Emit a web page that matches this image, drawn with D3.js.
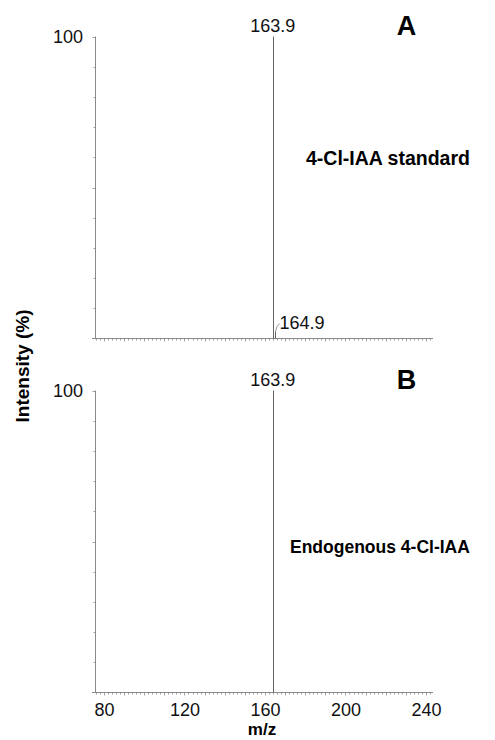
<!DOCTYPE html>
<html><head><meta charset="utf-8">
<script src="https://cdn.jsdelivr.net/npm/d3@7"></script>
<style>body{margin:0;background:#fff}svg{display:block}</style>
</head><body>
<script>
// ---- data ----
const panels = ["A", "B"];
const panelTitles = ["4-Cl-IAA standard", "Endogenous 4-Cl-IAA"];
const peaksA_mz = [163.9, 164.9];
const peaksA_int = [100, 2.3];
const peaksA_label = ["163.9", "164.9"];
const peaksB_mz = [163.9];
const peaksB_int = [100];
const peaksB_label = ["163.9"];
const xTickValues = [80, 120, 160, 200, 240];
const yTickLabels = ["100"];
const xLabel = "m/z";
const yLabel = "Intensity (%)";

const W = 495, H = 740;
const svg = d3.select("body").append("svg").attr("width", W).attr("height", H);
const font = "Liberation Sans, Arial, sans-serif";

const x = d3.scaleLinear().domain([75.8, 243.5]).range([95.5, 433]);
const panelGeom = [{top: 36.5, bottom: 338.5}, {top: 390.5, bottom: 692.5}];
const peakSets = [
  {mz: peaksA_mz, it: peaksA_int, lab: peaksA_label},
  {mz: peaksB_mz, it: peaksB_int, lab: peaksB_label}
];
const axisCol = "#8a8a8a";

panels.forEach((p, i) => {
  const g = panelGeom[i];
  const y = d3.scaleLinear().domain([0, 100]).range([g.bottom, g.top]);
  const G = svg.append("g");

  // x axis line
  G.append("line").attr("x1", x.range()[0] - 3.5).attr("x2", x.range()[1])
    .attr("y1", g.bottom).attr("y2", g.bottom).attr("stroke", axisCol).attr("stroke-width", 1);
  // x minor ticks
  const minor = d3.range(76, 243, 2);
  G.selectAll(".mt").data(minor).join("line")
    .attr("x1", d => Math.round(x(d)) + 0.5).attr("x2", d => Math.round(x(d)) + 0.5)
    .attr("y1", g.bottom).attr("y2", d => g.bottom + (d % 10 === 0 ? 3 : 2))
    .attr("stroke", axisCol).attr("stroke-width", 0.8);

  // y axis line
  G.append("line").attr("x1", x.range()[0]).attr("x2", x.range()[0])
    .attr("y1", g.top).attr("y2", g.bottom).attr("stroke", axisCol).attr("stroke-width", 1);
  // y ticks every 10
  G.selectAll(".yt").data(d3.range(10, 101, 10)).join("line")
    .attr("x1", x.range()[0]).attr("x2", d => x.range()[0] - (d === 50 || d === 100 ? 3 : 2))
    .attr("y1", d => Math.round(y(d)) + 0.5).attr("y2", d => Math.round(y(d)) + 0.5)
    .attr("stroke", axisCol).attr("stroke-width", 0.8);
  // y label 100
  G.append("text").attr("x", 83).attr("y", y(100) + 6.5).attr("text-anchor", "end")
    .attr("font-family", font).attr("font-size", 18).attr("fill", "#111").text(yTickLabels[0]);

  // peaks
  const ps = peakSets[i];
  ps.mz.forEach((m, k) => {
    const px = Math.round(x(m)) + 0.5;
    G.append("line").attr("x1", px).attr("x2", px).attr("y1", g.bottom).attr("y2", y(ps.it[k]))
      .attr("stroke", "#666").attr("stroke-width", 1);
    if (ps.it[k] > 50) {
      G.append("text").attr("x", x(m)).attr("y", y(ps.it[k]) - 5).attr("text-anchor", "middle")
        .attr("font-family", font).attr("font-size", 18).attr("fill", "#111").text(ps.lab[k]);
    } else {
      const ty = y(ps.it[k]);
      G.append("path").attr("d", `M${px},${ty} Q${px + 1},${ty - 6} ${px + 4},${ty - 8}`)
        .attr("fill", "none").attr("stroke", "#777").attr("stroke-width", 0.8);
      G.append("text").attr("x", px + 4).attr("y", ty - 3)
        .attr("font-family", font).attr("font-size", 18).attr("fill", "#111").text(ps.lab[k]);
    }
  });

  // panel letter
  G.append("text").attr("x", 406.5).attr("y", g.top - 1.5).attr("text-anchor", "middle")
    .attr("font-family", font).attr("font-weight", "bold").attr("font-size", 27).attr("fill", "#000").text(p);
});

// panel titles
svg.append("text").attr("x", 306).attr("y", 165).attr("font-family", font).attr("font-weight", "bold")
  .attr("font-size", 19.5).attr("fill", "#000").text(panelTitles[0]);
svg.append("text").attr("x", 290).attr("y", 553).attr("font-family", font).attr("font-weight", "bold")
  .attr("font-size", 17.5).attr("fill", "#000").text(panelTitles[1]);

// x tick labels (bottom panel only)
const xAxis = d3.axisBottom(x).tickValues(xTickValues).tickSize(0).tickPadding(0);
const xa = svg.append("g").attr("transform", `translate(0,${panelGeom[1].bottom})`).call(xAxis);
xa.select(".domain").remove();
xa.selectAll("text").attr("font-family", font).attr("font-size", 18).attr("fill", "#111")
  .attr("dy", null).attr("y", 23);

// axis titles
svg.append("text").attr("x", 262).attr("y", 735).attr("text-anchor", "middle")
  .attr("font-family", font).attr("font-weight", "bold").attr("font-size", 17).attr("fill", "#000").text(xLabel);
svg.append("text").attr("transform", "translate(29,366) rotate(-90)").attr("text-anchor", "middle")
  .attr("font-family", font).attr("font-weight", "bold").attr("font-size", 19).attr("fill", "#000").text(yLabel);
</script>
</body></html>
